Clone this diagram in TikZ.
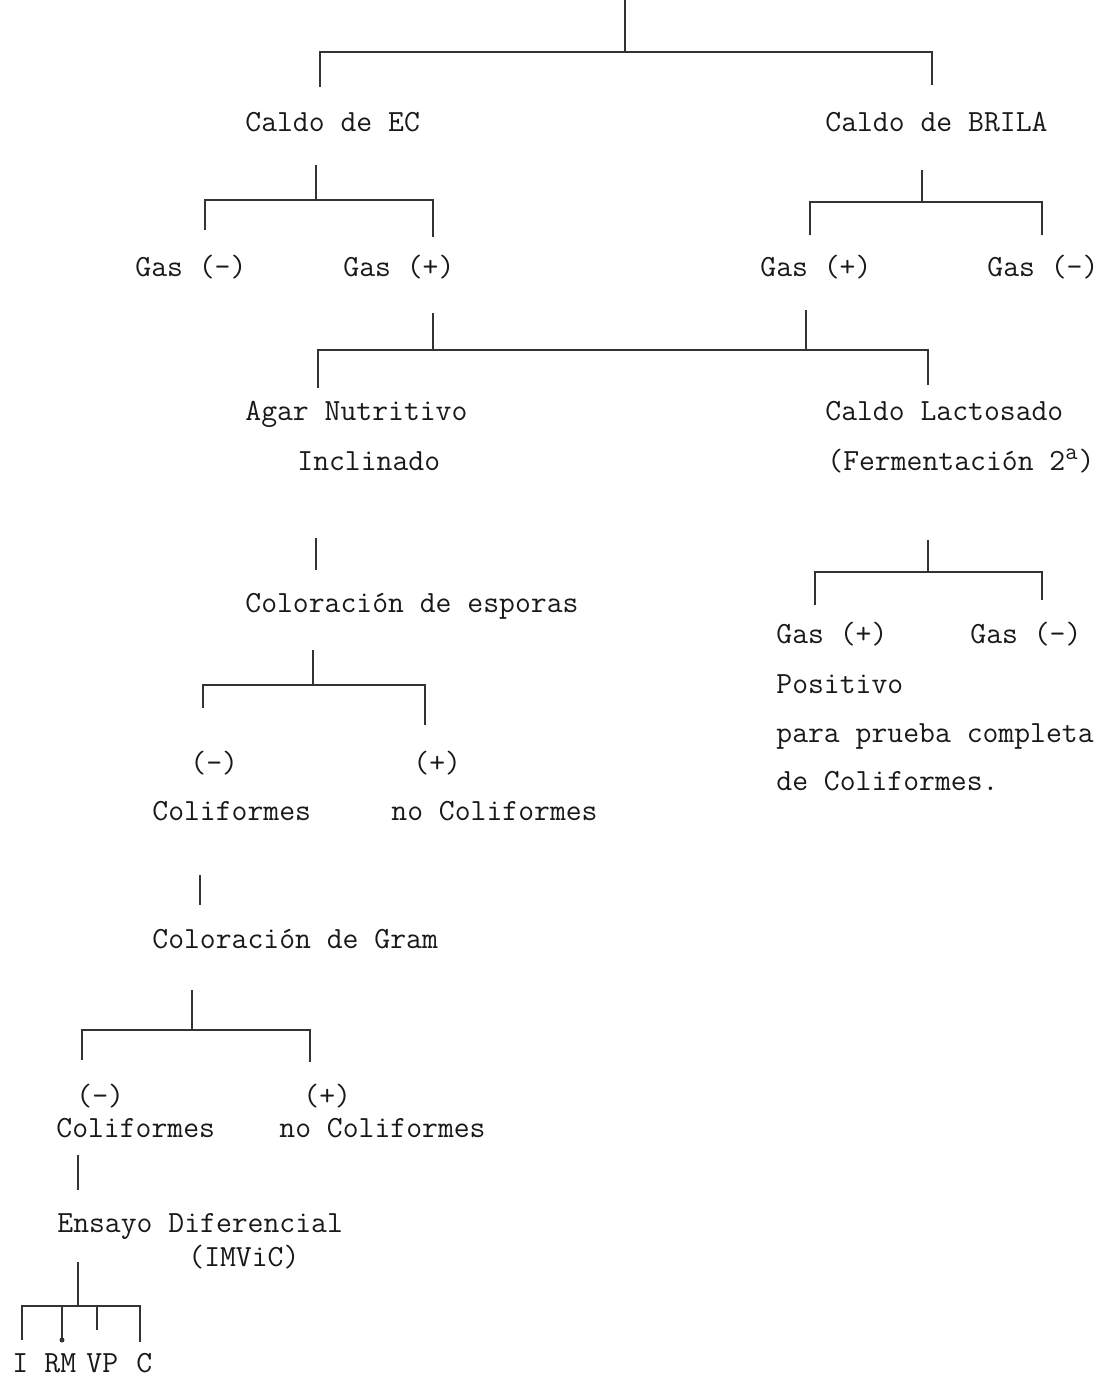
\documentclass[tikz,border=0pt]{standalone}
\usepackage{tikz}
\usetikzlibrary{positioning,calc}

\tikzset{
  txt/.style={anchor=base west, inner sep=0pt, font=\ttfamily\fontsize{15.4}{18}\selectfont, text=black!90},
  rama/.style={draw=black!80, line width=0.7pt}
}

\begin{document}
\begin{tikzpicture}[x=0.5pt,y=-0.5pt]
\useasboundingbox (0,0) rectangle (1107,1377);

% first level
\node[txt] (ec) at (245,131) {Caldo de EC};
\node[txt] (brila) at (825,131) {Caldo de BRILA};
\coordinate (topT) at (625,0);
\coordinate (topB) at (625,52);
\coordinate (topL) at (320,87);
\coordinate (topR) at (932,85);
\draw[rama] (topT) -- (topB) (topL) |- (topB) -| (topR);

% Caldo de EC
\node[txt] (ecneg) at (135,276) {Gas (-)};
\node[txt] (ecpos) at (343,276) {Gas (+)};
\coordinate (ecT) at (316,165);
\coordinate (ecB) at (316,200);
\coordinate (ecL) at (205,230);
\coordinate (ecR) at (433,237);
\draw[rama] (ecT) -- (ecB) (ecL) |- (ecB) -| (ecR);

% Caldo de BRILA
\node[txt] (brpos) at (760,276) {Gas (+)};
\node[txt] (brneg) at (987,276) {Gas (-)};
\coordinate (brT) at (922,170);
\coordinate (brB) at (922,202);
\coordinate (brL) at (810,235);
\coordinate (brR) at (1042,235);
\draw[rama] (brT) -- (brB) (brL) |- (brB) -| (brR);

% both Gas (+)
\node[txt] (agar) at (245,420) {Agar Nutritivo};
\node[txt] (incl) at (297,470) {Inclinado};
\node[txt] (lact) at (825,420) {Caldo Lactosado};
\node[txt] (ferm) at (827,470) {(Fermentación 2\textsuperscript{\large a})};
\coordinate (j1T) at (433,313);
\coordinate (j1B) at (433,350);
\coordinate (j2T) at (806,310);
\coordinate (j2B) at (806,350);
\coordinate (jL) at (318,388);
\coordinate (jR) at (928,385);
\draw[rama] (j1T) -- (j1B) (j2T) -- (j2B) (jL) |- (j2B) -| (jR);

% Agar
\node[txt] (espo) at (245,612) {Coloración de esporas};
\coordinate (inT) at (316,538);
\coordinate (inB) at (316,570);
\draw[rama] (inT) -- (inB);

% esporas
\node[txt] (esneg) at (190,772) {(-)};
\node[txt] (espos) at (413,772) {(+)};
\node[txt] (coli) at (152,820) {Coliformes};
\node[txt] (nocoli) at (391,820) {no Coliformes};
\coordinate (esT) at (313,650);
\coordinate (esB) at (313,685);
\coordinate (esL) at (203,708);
\coordinate (esR) at (425,725);
\draw[rama] (esT) -- (esB) (esL) |- (esB) -| (esR);

% Gram
\node[txt] (gram) at (152,948) {Coloración de Gram};
\coordinate (coT) at (200,875);
\coordinate (coB) at (200,905);
\draw[rama] (coT) -- (coB);

\node[txt] (grneg) at (76,1105) {(-)};
\node[txt] (grpos) at (303,1105) {(+)};
\node[txt] (coli2) at (56,1137) {Coliformes};
\node[txt] (nocoli2) at (279,1137) {no Coliformes};
\coordinate (grT) at (192,990);
\coordinate (grB) at (192,1030);
\coordinate (grL) at (82,1060);
\coordinate (grR) at (310,1062);
\draw[rama] (grT) -- (grB) (grL) |- (grB) -| (grR);

% ensayo diferencial
\node[txt] (ensayo) at (57,1232) {Ensayo Diferencial};
\node[txt] (imvic) at (188,1266) {(IMViC)};
\coordinate (c2T) at (78,1155);
\coordinate (c2B) at (78,1190);
\draw[rama] (c2T) -- (c2B);

\node[txt] (ind) at (12,1372) {I};
\node[txt] (rm) at (44,1372) {RM};
\node[txt] (vp) at (86,1372) {VP};
\node[txt] (cit) at (136,1372) {C};
\coordinate (imT) at (78,1262);
\coordinate (imB) at (78,1306);
\coordinate (imA) at (22,1340);
\coordinate (imR) at (62,1340);
\coordinate (imV) at (97,1330);
\coordinate (imC) at (140,1342);
\draw[rama] (imT) -- (imB) (imA) |- (imB) -| (imC)
  (imR) -- (imR |- imB) (imV) -- (imV |- imB);
\fill[black!80] (imR) circle (2.5);

% Caldo Lactosado
\node[txt] (lapos) at (776,643) {Gas (+)};
\node[txt] (laneg) at (970,643) {Gas (-)};
\node[txt] (posi) at (776,693) {Positivo};
\node[txt] (para) at (776,742) {para prueba completa};
\node[txt] (deco) at (776,790) {de Coliformes.};
\coordinate (laT) at (928,540);
\coordinate (laB) at (928,572);
\coordinate (laL) at (815,605);
\coordinate (laR) at (1042,600);
\draw[rama] (laT) -- (laB) (laL) |- (laB) -| (laR);
\end{tikzpicture}
\end{document}
